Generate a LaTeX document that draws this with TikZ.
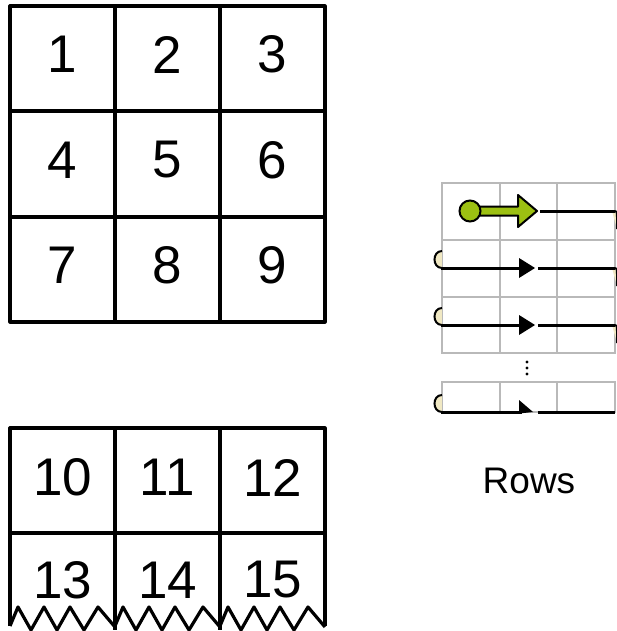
\documentclass[tikz,border=0pt]{standalone}
\usepackage{fontspec}
\setmainfont{Liberation Sans}
\definecolor{gridgray}{RGB}{185,185,185}
\definecolor{leafgreen}{RGB}{156,192,18}
\definecolor{hookfill}{RGB}{240,232,195}
\begin{document}
\begin{tikzpicture}[x=1pt,y=-1pt,
  bigline/.style={line width=3.2pt,line join=round},
  num/.style={inner sep=0pt,font=\fontsize{53}{56}\selectfont},
  smallgrid/.style={draw=gridgray,line width=2.6pt},
  rowline/.style={line width=3pt},
  rowhead/.style={fill=black},
  hook/.style={draw=black,line width=2pt,fill=hookfill}]
\useasboundingbox (0,0) rectangle (617,631);
\clip (0,0) rectangle (617,631);
% ---------- top 3x3 grid ----------
\draw[bigline] (10,6) rectangle (325,322);
\draw[bigline] (115,6) -- (115,322) (220,6) -- (220,322);
\draw[bigline] (10,111) -- (325,111) (10,217) -- (325,217);
\foreach \t/\x/\y in {1/62.5/54.5,2/167.5/54.5,3/272.5/54.5,
                      4/62.5/160,5/167.5/160,6/272.5/160,
                      7/62.5/265.5,8/167.5/265.5,9/272.5/265.5}
  \node[num] (c\t) at (\x,\y) {\t};
% ---------- bottom torn grid ----------
\draw[bigline] (10,626) -- (10,428) -- (325,428) -- (325,626);
\draw[bigline] (115,428) -- (115,630) (220,428) -- (220,630);
\draw[bigline] (10,533) -- (325,533);
\foreach \x in {10,115,220}
  \draw[bigline] (\x,626) -- (\x+8,607) -- (\x+21,630) -- (\x+34,607) -- (\x+47,630)
        -- (\x+60,607) -- (\x+74,630) -- (\x+88,607) -- (\x+105,627);
\foreach \t/\x/\y in {10/62.5/477.5,11/167.5/477.5,12/272.5/477.5,
                      13/62.5/580,14/167.5/580,15/272.5/580}
  \node[num] (c\t) at (\x,\y) {\t};
% ---------- small rows diagram ----------
\draw[smallgrid] (442,183) rectangle (615,353);
\draw[smallgrid] (500,183) -- (500,353) (557,183) -- (557,353);
\draw[smallgrid] (442,240) -- (615,240) (442,297) -- (615,297);
\draw[smallgrid] (442,382) rectangle (615,412);
\draw[smallgrid] (500,382) -- (500,412) (557,382) -- (557,412);
\foreach \y in {362,368,374} \fill (527,\y) circle (1.6);
% right hooks
\foreach \y in {211,268,325}
  \draw[hook] (612,\y) .. controls (617,\y) .. (617,\y+6) -- (617,\y+18);
% left hooks
\foreach \y in {268,325,412}
  \draw[hook] (442,\y-17) .. controls (432,\y-17) and (432,\y) .. (442,\y);
% row lines with arrowheads
\foreach \y in {268,325} {
  \draw[rowline] (441,\y) -- (522,\y);
  \fill[rowhead] (519,\y-10) -- (535,\y) -- (519,\y+10) -- cycle;
  \draw[rowline] (538,\y) -- (615,\y);
}
\draw[rowline] (441,412) -- (522,412);
\fill[rowhead] (519,400) -- (533,412) -- (519,413.5) -- cycle;
\draw[rowline] (538,412) -- (615,412);
\draw[rowline] (540,211) -- (615,211);
% green start arrow
\draw[fill=leafgreen,line width=2pt,line join=round]
  (478,206.5) -- (518,206.5) -- (518,195) -- (537,211) -- (518,227) -- (518,215.5) -- (478,215.5) -- cycle;
\draw[fill=leafgreen,line width=2pt] (470,211) circle (10.5);
\node[inner sep=0pt,font=\fontsize{37}{40}\selectfont] (rows) at (529,481) {Rows};
\end{tikzpicture}
\end{document}
